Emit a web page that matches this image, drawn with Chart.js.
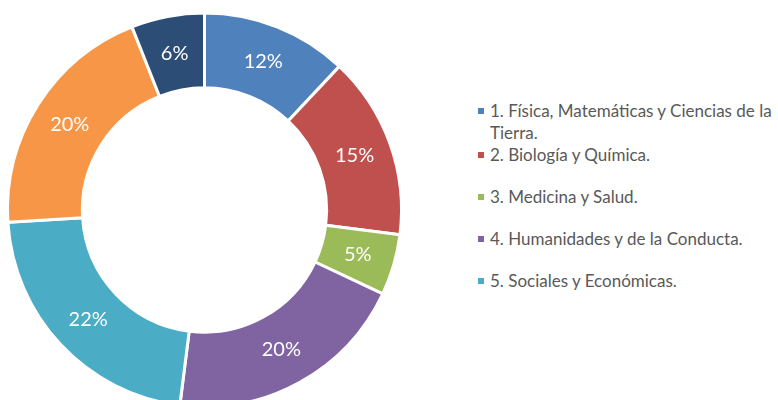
<!DOCTYPE html>
<html>
<head>
<meta charset="utf-8">
<script src="https://cdn.jsdelivr.net/npm/chart.js@4"></script>
<style>
  html, body { margin: 0; padding: 0; background: #fff; width: 778px; height: 400px; overflow: hidden; }
  #wrap { position: absolute; left: 0; top: 0; width: 410px; height: 420px; }
  #legend { position: absolute; left: 476px; top: 100px; margin: 0; padding: 0; list-style: none;
            font-family: Lato, "Open Sans", sans-serif; font-size: 17px; color: #595959; }
  #legend li { position: relative; padding-left: 14px; min-height: 42px; line-height: 22px; white-space: nowrap; }
  #legend li span { position: absolute; left: 2px; top: 8px; width: 6px; height: 6px; }
</style>
</head>
<body>
<div id="wrap"><canvas id="chart" width="410" height="420"></canvas></div>
<ul id="legend"></ul>
<script>
// areas
const labels = [
  ['1. Física, Matemáticas y Ciencias de la', 'Tierra.'],
  '2. Biología y Química.',
  '3. Medicina y Salud.',
  '4. Humanidades y de la Conducta.',
  '5. Sociales y Económicas.',
  '6. Biotecnología y Ciencias Agropecuarias.',
  '7. Ingenierías.'
];
const values = [12, 15, 5, 20, 22, 20, 6];
const colors = ['#4F81BD', '#C0504D', '#9BBB59', '#8064A2', '#4BACC6', '#F79646', '#2C4D75'];
const legendShown = 5; // only the first five show in the original

// percent labels in the middle of each ring piece
const pctLabels = {
  id: 'pctLabels',
  afterDatasetsDraw(chart) {
    const ctx = chart.ctx;
    const meta = chart.getDatasetMeta(0);
    ctx.save();
    ctx.fillStyle = '#fff';
    ctx.font = '20px Lato, "Open Sans", sans-serif';
    ctx.textAlign = 'center';
    ctx.textBaseline = 'middle';
    meta.data.forEach((arc, i) => {
      const p = arc.getCenterPoint();
      ctx.fillText(values[i] + '%', p.x, p.y);
    });
    ctx.restore();
  }
};

new Chart(document.getElementById('chart'), {
  type: 'doughnut',
  data: {
    labels,
    datasets: [{
      data: values,
      backgroundColor: colors,
      borderColor: '#fff',
      borderWidth: 3
    }]
  },
  options: {
    responsive: false,
    maintainAspectRatio: false,
    animation: false,
    cutout: '62%',
    layout: { padding: { left: 6, top: 11, right: 7, bottom: 11 } },
    plugins: { legend: { display: false }, tooltip: { enabled: false } }
  },
  plugins: [pctLabels]
});

// html legend
const ul = document.getElementById('legend');
labels.slice(0, legendShown).forEach((l, i) => {
  const li = document.createElement('li');
  const box = document.createElement('span');
  box.style.background = colors[i];
  li.appendChild(box);
  li.insertAdjacentHTML('beforeend', Array.isArray(l) ? l.join('<br>') : l);
  ul.appendChild(li);
});
</script>
</body>
</html>
